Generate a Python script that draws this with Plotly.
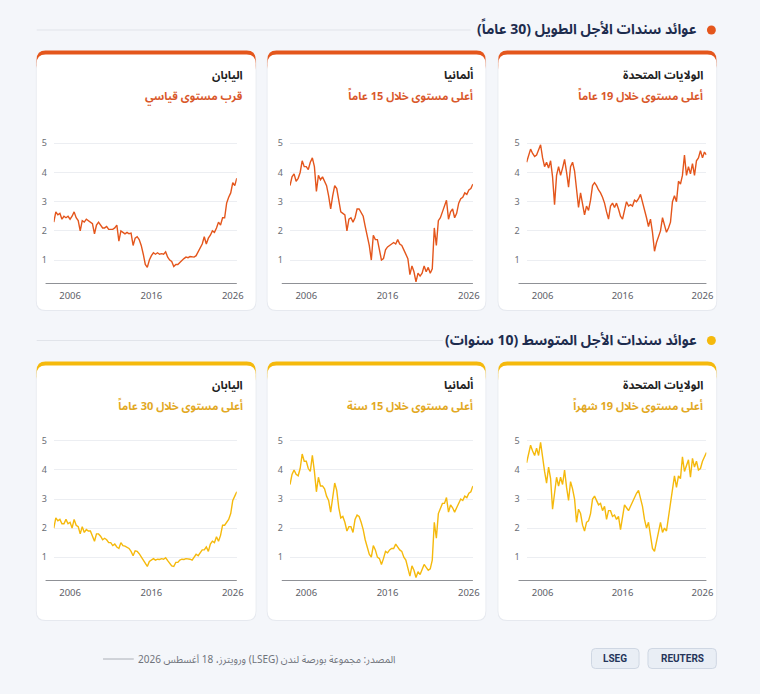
import pandas as pd
import plotly.graph_objects as go

# ---------------- data ----------------
DATES = pd.date_range("2004-01-01", periods=91, freq="QS")
TICK_YEARS = ["2006", "2016", "2026"]
Y_TICKS = [1, 2, 3, 4, 5]

US30 = [4.35, 4.6, 4.8, 4.65, 4.55, 4.6, 4.75, 4.95, 4.5, 4.2,
        4.35, 4.15, 4.4, 3.85, 2.9, 3.9, 4.2, 3.9, 4.15, 4.45,
        4.0, 3.5, 4.2, 4.35, 4.05, 3.5, 2.8, 3.3, 2.95, 2.55,
        2.85, 2.7, 3.05, 3.55, 3.65, 3.55, 3.4, 3.3, 3.15, 2.95,
        2.65, 2.4, 2.85, 2.95, 2.8, 2.95, 2.75, 2.5, 2.4, 2.75,
        3.0, 2.85, 2.9, 2.85, 3.05, 3.0, 3.1, 3.25, 3.0, 2.8,
        2.45, 2.15, 2.4, 1.95, 1.3, 1.6, 1.8, 2.0, 2.45, 2.2,
        1.95, 2.1, 2.3, 3.0, 3.2, 3.0, 3.7, 3.6, 3.9, 4.6,
        3.9, 4.2, 3.95, 4.3, 3.9, 4.4, 4.5, 4.75, 4.5, 4.7,
        4.6]
DE30 = [3.55, 3.85, 3.95, 3.7, 3.8, 4.0, 4.4, 4.2, 4.2, 4.1,
        4.35, 4.5, 4.2, 3.35, 3.9, 3.75, 3.85, 3.7, 3.55, 3.2,
        2.75, 3.2, 3.55, 3.45, 3.0, 2.65, 2.6, 2.55, 2.0, 2.4,
        2.45, 2.3, 2.45, 2.75, 2.75, 2.6, 2.5, 2.15, 1.8, 1.5,
        1.0, 1.85, 1.7, 1.7, 1.35, 1.0, 1.05, 1.35, 1.45, 1.5,
        1.55, 1.6, 1.55, 1.7, 1.55, 1.5, 1.35, 1.2, 1.05, 0.5,
        0.8, 0.6, 0.25, 0.55, 0.45, 0.55, 0.8, 0.6, 0.75, 0.55,
        0.7, 2.1, 1.5, 2.35, 2.45, 2.65, 2.85, 3.05, 2.4, 2.65,
        2.75, 2.45, 2.6, 2.95, 3.1, 3.15, 3.3, 3.25, 3.4, 3.45,
        3.6]
JP30 = [2.3, 2.65, 2.55, 2.6, 2.4, 2.5, 2.45, 2.5, 2.4, 2.5,
        2.65, 2.45, 2.35, 2.0, 2.35, 2.3, 2.4, 2.35, 2.3, 2.25,
        1.9, 2.2, 2.3, 2.2, 2.1, 2.1, 2.15, 2.05, 2.05, 2.05,
        2.1, 2.2, 1.65, 2.0, 1.95, 1.9, 1.95, 1.9, 1.92, 1.5,
        1.75, 1.8, 1.7, 1.5, 1.2, 0.85, 0.75, 1.0, 1.15, 1.25,
        1.2, 1.25, 1.2, 1.22, 1.2, 1.28, 1.1, 1.0, 0.95, 0.78,
        0.85, 0.85, 0.92, 1.0, 1.05, 1.1, 1.08, 1.12, 1.1, 1.1,
        1.15, 1.3, 1.45, 1.55, 1.8, 1.55, 1.75, 1.85, 2.0, 1.95,
        2.1, 2.3, 2.2, 2.45, 2.45, 2.95, 3.15, 3.3, 3.65, 3.55,
        3.8]
US10 = [4.25, 4.6, 4.85, 4.65, 4.5, 4.75, 4.5, 4.95, 4.35, 3.95,
        3.55, 4.1, 3.7, 2.65, 3.2, 3.75, 3.45, 3.75, 3.5, 4.0,
        3.4, 2.95, 3.6, 3.35, 3.0, 2.2, 2.65, 2.5, 2.1, 1.9,
        2.2, 2.25, 2.5, 3.0, 3.1, 2.95, 2.8, 2.85, 2.6, 2.75,
        2.3, 2.6, 2.6, 2.4, 2.45, 2.3, 2.4, 1.95, 2.45, 2.8,
        2.7, 2.6, 2.75, 2.9, 3.1, 3.2, 3.3, 3.0, 2.75, 2.3,
        2.0, 2.2, 1.7, 1.3, 1.2, 1.5, 1.8, 2.2, 1.85, 2.0,
        1.9, 2.35, 2.9, 3.3, 3.8, 3.4, 3.8, 3.7, 4.45, 3.95,
        4.15, 4.35, 3.75, 4.4, 4.1, 4.3, 4.0, 4.05, 4.3, 4.45,
        4.6]
DE10 = [3.5, 3.85, 4.0, 3.85, 3.8, 4.05, 4.55, 4.3, 4.3, 4.05,
        3.95, 4.5, 3.95, 3.25, 3.75, 3.45, 3.45, 3.35, 3.1, 2.95,
        2.55, 3.15, 3.55, 3.3, 2.7, 2.35, 2.4, 2.2, 1.9, 2.05,
        2.05, 1.85, 2.3, 2.45, 2.4, 2.2, 1.95, 1.6, 1.35, 1.1,
        1.0, 1.4, 1.25, 1.0, 0.95, 0.75, 0.95, 1.2, 1.15, 1.25,
        1.3, 1.3, 1.45, 1.35, 1.25, 1.2, 1.0, 0.9, 0.65, 0.35,
        0.7, 0.55, 0.3, 0.5, 0.4, 0.6, 0.75, 0.65, 0.55, 0.6,
        0.9, 2.2, 1.65, 2.5, 2.65, 2.85, 2.85, 3.05, 2.55, 2.8,
        2.7, 2.55, 2.7, 2.85, 3.0, 2.95, 3.1, 3.05, 3.2, 3.25,
        3.45]
JP10 = [2.0, 2.35, 2.25, 2.3, 2.15, 2.15, 2.3, 2.15, 2.2, 2.0,
        2.3, 2.1, 2.05, 1.8, 2.05, 1.85, 1.95, 1.9, 1.9, 1.7,
        1.55, 1.8, 1.8, 1.72, 1.6, 1.65, 1.6, 1.5, 1.5, 1.4,
        1.45, 1.35, 1.3, 1.5, 1.4, 1.38, 1.35, 1.3, 1.2, 1.05,
        1.22, 1.2, 1.12, 1.0, 0.9, 0.75, 0.68, 0.85, 0.9, 0.95,
        0.9, 0.93, 0.92, 0.95, 0.93, 0.98, 0.88, 0.78, 0.7, 0.68,
        0.82, 0.82, 0.9, 0.93, 0.92, 0.95, 0.95, 0.93, 0.9, 1.0,
        1.1, 1.05, 1.15, 1.25, 1.25, 1.35, 1.2, 1.45, 1.55, 1.5,
        1.7, 1.55, 1.75, 2.1, 2.1, 2.2, 2.3, 2.5, 2.95, 3.1,
        3.25]

COUNTRIES = ["اليابان", "ألمانيا", "الولايات المتحدة"]
SUB_30 = ["قرب مستوى قياسي", "أعلى مستوى خلال 15 عاماً", "أعلى مستوى خلال 19 عاماً"]
SUB_10 = ["أعلى مستوى خلال 30 عاماً", "أعلى مستوى خلال 15 سنة", "أعلى مستوى خلال 19 شهراً"]
HEAD_30 = "عوائد سندات الأجل الطويل (30 عاماً)"
HEAD_10 = "عوائد سندات الأجل المتوسط (10 سنوات)"
SOURCE = "المصدر: مجموعة بورصة لندن (LSEG) ورويترز، 18 أغسطس 2026"
BADGES = ["LSEG", "REUTERS"]

# ---------------- style / layout ----------------
W, H = 760, 694
BG = "#f4f6fa"
NAVY = "#1d2c4e"
ORANGE = "#e4561c"
ORANGE_TXT = "#d9582b"
YELLOW = "#f5b90c"
YELLOW_TXT = "#e2a823"
AR_FONT = "Noto Sans Arabic, DejaVu Sans, sans-serif"
NUM_FONT = "Noto Sans, DejaVu Sans, sans-serif"


def rtl(s):
    return "\u202b" + s + "\u202c"


def X(px):
    return px / W


def Y(py):
    return 1 - py / H


def rrect_path(x0, y0, x1, y1, r):
    rx, ry = r / W, r / H
    a, b, c, d = X(x0), Y(y0), X(x1), Y(y1)
    return (f"M {a+rx},{b} L {c-rx},{b} Q {c},{b} {c},{b-ry} "
            f"L {c},{d+ry} Q {c},{d} {c-rx},{d} L {a+rx},{d} "
            f"Q {a},{d} {a},{d+ry} L {a},{b-ry} Q {a},{b} {a+rx},{b} Z")


CARD_X = [(37, 258), (270, 490), (503, 723)]
ROWS = [
    dict(card=(50.5, 310), head_y=30, line_end=475, title_y=74.5, sub_y=96.5,
         plot=(131.6, 284.0), color=ORANGE, txt=ORANGE_TXT, head=HEAD_30,
         subs=SUB_30, series=[JP30, DE30, US30]),
    dict(card=(361.5, 620), head_y=340.5, line_end=447, title_y=384.5, sub_y=406.5,
         plot=(429.3, 581.0), color=YELLOW, txt=YELLOW_TXT, head=HEAD_10,
         subs=SUB_10, series=[JP10, DE10, US10]),
]
PLOT_X = [(54.3, 239), (292.7, 477.3), (531.5, 713)]

fig = go.Figure()
shapes, annots = [], []
layout_axes = {}

k = 0
for r, row in enumerate(ROWS):
    cy0, cy1 = row["card"]
    # section header
    shapes.append(dict(type="line", xref="paper", yref="paper",
                       x0=X(37), x1=X(row["line_end"]), y0=Y(row["head_y"]), y1=Y(row["head_y"]),
                       line=dict(color="#e1e4ea", width=1), layer="below"))
    shapes.append(dict(type="circle", xref="paper", yref="paper",
                       x0=X(713.5), x1=X(722.5), y0=Y(row["head_y"] + 4.5), y1=Y(row["head_y"] - 4.5),
                       fillcolor=row["color"], line=dict(width=0), layer="below"))
    annots.append(dict(text="<b>" + rtl(row["head"]) + "</b>", xref="paper", yref="paper",
                       x=X(706), y=Y(row["head_y"]), xanchor="right", yanchor="middle",
                       showarrow=False, font=dict(family=AR_FONT, size=14, color=NAVY)))
    for c in range(3):
        k += 1
        sfx = "" if k == 1 else str(k)
        x0, x1 = CARD_X[c]
        # card shadow/border, coloured top, white body
        shapes.append(dict(type="path", xref="paper", yref="paper",
                           path=rrect_path(x0 - 0.8, cy0 + 2, x1 + 0.8, cy1 + 1.0, 9.5),
                           fillcolor="#e6e9ef", line=dict(width=0), layer="below"))
        shapes.append(dict(type="path", xref="paper", yref="paper",
                           path=rrect_path(x0, cy0, x1, cy0 + 24, 9),
                           fillcolor=row["color"], line=dict(width=0), layer="below"))
        shapes.append(dict(type="path", xref="paper", yref="paper",
                           path=rrect_path(x0, cy0 + 4, x1, cy1, 9),
                           fillcolor="white", line=dict(width=0), layer="below"))
        annots.append(dict(text="<b>" + rtl(COUNTRIES[c]) + "</b>", xref="paper", yref="paper",
                           x=X(x1 - 11), y=Y(row["title_y"]), xanchor="right", yanchor="middle",
                           showarrow=False, font=dict(family=AR_FONT, size=11.5, color="#222222")))
        annots.append(dict(text="<b>" + rtl(row["subs"][c]) + "</b>", xref="paper", yref="paper",
                           x=X(x1 - 11), y=Y(row["sub_y"]), xanchor="right", yanchor="middle",
                           showarrow=False, font=dict(family=AR_FONT, size=11, color=row["txt"])))
        # subplot
        px0, px1 = PLOT_X[c]
        py0, py1 = row["plot"]
        xa, ya = f"xaxis{sfx}", f"yaxis{sfx}"
        xs, ys = f"x{sfx}", f"y{sfx}"
        layout_axes[xa] = dict(domain=[X(px0), X(px1)], anchor=ys, type="date",
                               range=[DATES[0], DATES[-1]],
                               tickvals=[pd.Timestamp(f"{t}-01-01") for t in TICK_YEARS],
                               ticktext=TICK_YEARS, showgrid=False, zeroline=False,
                               showline=False, ticks="", ticklabelstandoff=4,
                               tickfont=dict(family=NUM_FONT, size=9.5, color="#5d6068"))
        layout_axes[ya] = dict(domain=[Y(py1), Y(py0)], anchor=xs, range=[0.18, 5.4],
                               tickvals=Y_TICKS, showgrid=True, gridcolor="#eceef2", gridwidth=1,
                               zeroline=False, showline=False, ticks="", ticklabelstandoff=6,
                               tickfont=dict(family=NUM_FONT, size=9, color="#6b6e75"))
        shapes.append(dict(type="line", xref=f"{xs} domain", yref=ys,
                           x0=-0.045, x1=1.0, y0=0.18, y1=0.18,
                           line=dict(color="#6a6d73", width=1.6), layer="above"))
        fig.add_trace(go.Scatter(x=DATES, y=row["series"][c], mode="lines", xaxis=xs, yaxis=ys,
                                 line=dict(color=row["color"], width=1.4), hoverinfo="skip",
                                 showlegend=False))

# footer
annots.append(dict(text=rtl(SOURCE), xref="paper", yref="paper", x=X(401), y=Y(659),
                   xanchor="right", yanchor="middle", showarrow=False,
                   font=dict(family=AR_FONT, size=10, color="#6f737b")))
shapes.append(dict(type="line", xref="paper", yref="paper", x0=X(104), x1=X(135),
                   y0=Y(659), y1=Y(659), line=dict(color="#9a9ea6", width=0.8)))
for (bx0, bx1), label in zip([(597, 645), (654, 723)], BADGES):
    shapes.append(dict(type="path", xref="paper", yref="paper",
                       path=rrect_path(bx0, 648.5, bx1, 668.5, 4),
                       fillcolor="#e9eef5", line=dict(color="#cfd7e3", width=1), layer="below"))
    annots.append(dict(text="<b>" + label + "</b>", xref="paper", yref="paper",
                       x=X((bx0 + bx1) / 2), y=Y(658.5), xanchor="center", yanchor="middle",
                       showarrow=False, font=dict(family="Roboto, Noto Sans, sans-serif",
                                                  size=10, color="#25355a")))

fig.update_layout(width=W, height=H, autosize=False, margin=dict(l=0, r=0, t=0, b=0),
                  paper_bgcolor=BG, plot_bgcolor="rgba(0,0,0,0)", showlegend=False,
                  shapes=shapes, annotations=annots, **layout_axes)

fig.write_html("out.html", config={"displayModeBar": False},
               post_script=("document.documentElement.style.overflow='hidden';"
                            "document.body.style.overflow='hidden';"
                            "document.body.style.margin='0';"
                            "var gd=document.getElementById('{plot_id}');"
                            "Plotly.relayout(gd,{width:document.documentElement.clientWidth});"))
